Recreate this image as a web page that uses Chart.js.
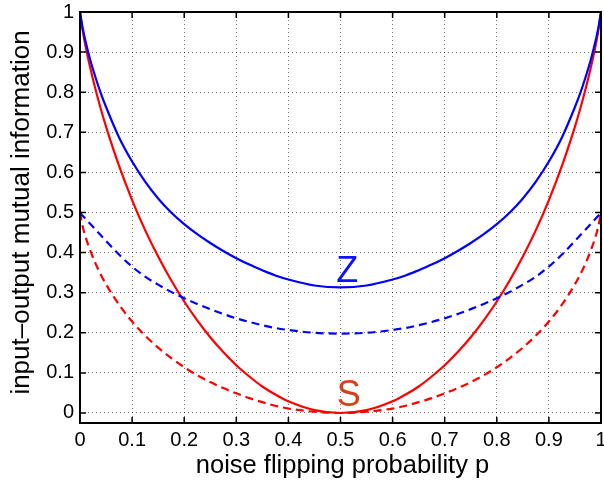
<!DOCTYPE html>
<html>
<head>
<meta charset="utf-8">
<script src="https://cdn.jsdelivr.net/npm/chart.js@4.4.1/dist/chart.umd.min.js"></script>
<style>
  html, body { margin: 0; padding: 0; background: #fff; }
  #wrap { width: 604px; height: 486px; }
</style>
</head>
<body>
<div id="wrap"><canvas id="chart" width="604" height="486"></canvas></div>
<script>
/* Mutual information vs noise flipping probability. */

const pValues = [0, 0.005, 0.01, 0.02, 0.03, 0.04, 0.05, 0.075, 0.1, 0.125, 0.15, 0.175, 0.2, 0.225, 0.25, 0.275,
  0.3, 0.325, 0.35, 0.375, 0.4, 0.45, 0.5, 0.55, 0.6, 0.625, 0.65, 0.675, 0.7, 0.725, 0.75, 0.775, 0.8, 0.825,
  0.85, 0.875, 0.9, 0.925, 0.95, 0.96, 0.97, 0.98, 0.99, 0.995, 1];

// Z, solid
const zSolid = [1, 0.961, 0.930, 0.879, 0.836, 0.797, 0.763, 0.687, 0.627, 0.577, 0.535, 0.500, 0.471, 0.446, 0.424, 0.404,
  0.386, 0.370, 0.356, 0.343, 0.333, 0.318, 0.313, 0.318, 0.333, 0.343, 0.356, 0.370, 0.386, 0.404, 0.424, 0.446, 0.471, 0.500,
  0.535, 0.577, 0.627, 0.687, 0.763, 0.797, 0.836, 0.879, 0.930, 0.961, 1];
// Z, dashed
const zDashed = [0.5, 0.492, 0.485, 0.471, 0.457, 0.443, 0.429, 0.395, 0.365, 0.340, 0.320, 0.302, 0.286, 0.272, 0.259, 0.247,
  0.236, 0.227, 0.219, 0.212, 0.207, 0.200, 0.198, 0.200, 0.207, 0.212, 0.219, 0.227, 0.236, 0.247, 0.259, 0.272, 0.286, 0.302,
  0.320, 0.340, 0.365, 0.395, 0.429, 0.443, 0.457, 0.471, 0.485, 0.492, 0.5];
// S, solid
const sSolid = [1, 0.955, 0.919, 0.859, 0.806, 0.758, 0.714, 0.616, 0.531, 0.456, 0.390, 0.331, 0.278, 0.231, 0.189, 0.152,
  0.119, 0.091, 0.066, 0.046, 0.029, 0.007, 0, 0.007, 0.029, 0.046, 0.066, 0.091, 0.119, 0.152, 0.189, 0.231, 0.278, 0.331,
  0.390, 0.456, 0.531, 0.616, 0.714, 0.758, 0.806, 0.859, 0.919, 0.955, 1];
// S, dashed
const sDashed = [0.5, 0.466, 0.442, 0.404, 0.372, 0.345, 0.321, 0.270, 0.228, 0.193, 0.163, 0.137, 0.114, 0.094, 0.077, 0.062,
  0.049, 0.037, 0.027, 0.018, 0.011, 0.003, 0, 0.003, 0.011, 0.018, 0.027, 0.037, 0.049, 0.062, 0.077, 0.094, 0.114, 0.137,
  0.163, 0.193, 0.228, 0.270, 0.321, 0.345, 0.372, 0.404, 0.442, 0.466, 0.5];

const xTickValues = [0, 0.1, 0.2, 0.3, 0.4, 0.5, 0.6, 0.7, 0.8, 0.9, 1];
const xTickLabels = ["0", "0.1", "0.2", "0.3", "0.4", "0.5", "0.6", "0.7", "0.8", "0.9", "1"];
const yTickValues = [0, 0.1, 0.2, 0.3, 0.4, 0.5, 0.6, 0.7, 0.8, 0.9, 1];
const yTickLabels = ["0", "0.1", "0.2", "0.3", "0.4", "0.5", "0.6", "0.7", "0.8", "0.9", "1"];

const xTitle = "noise flipping probability p";
const yTitle = "input\u2013output mutual information";

const FONT = '"Liberation Sans", Arial, Helvetica, sans-serif';
const BLUE = "#0000ff";
const RED = "#ff0000";

function points(ys) {
  return pValues.map((p, i) => ({ x: p, y: ys[i] }));
}

function curve(label, ys, color, dashed) {
  return {
    label,
    data: points(ys),
    borderColor: color,
    borderWidth: 2.2,
    borderDash: dashed ? [8, 5] : [],
    pointRadius: 0,
    showLine: true,
    fill: false,
    cubicInterpolationMode: "monotone",
  };
}

// black box + inward tick marks on all four sides, axis titles, curve labels
const decorPlugin = {
  id: "decor",
  afterDatasetsDraw(chart) {
    const { ctx, chartArea: a, scales } = chart;
    const x = scales.x;
    const y = scales.y;
    ctx.save();
    ctx.strokeStyle = "#000";
    ctx.lineWidth = 2;
    ctx.strokeRect(a.left, a.top, a.right - a.left, a.bottom - a.top);

    ctx.lineWidth = 1.5;
    ctx.beginPath();
    xTickValues.forEach((v) => {
      const px = x.getPixelForValue(v);
      ctx.moveTo(px, a.bottom);
      ctx.lineTo(px, a.bottom - 6);
      ctx.moveTo(px, a.top);
      ctx.lineTo(px, a.top + 6);
    });
    yTickValues.forEach((v) => {
      const py = y.getPixelForValue(v);
      ctx.moveTo(a.left, py);
      ctx.lineTo(a.left + 6, py);
      ctx.moveTo(a.right, py);
      ctx.lineTo(a.right - 6, py);
    });
    ctx.stroke();

    ctx.fillStyle = "#000";
    ctx.textAlign = "center";
    ctx.textBaseline = "alphabetic";
    ctx.font = "25.5px " + FONT;
    ctx.fillText(xTitle, (a.left + a.right) / 2 + 2, 473);

    ctx.save();
    ctx.translate(29, (a.top + a.bottom) / 2 - 5);
    ctx.rotate(-Math.PI / 2);
    ctx.font = "26px " + FONT;
    ctx.fillText(yTitle, 0, 0);
    ctx.restore();

    ctx.font = "36px " + FONT;
    ctx.fillStyle = "#1010ff";
    ctx.fillText("Z", x.getPixelForValue(0.513), y.getPixelForValue(0.327));
    ctx.fillStyle = "#d8401c";
    ctx.fillText("S", x.getPixelForValue(0.516), y.getPixelForValue(0.017));
    ctx.restore();
  },
};

function initChart() {
  const canvas = document.getElementById("chart");
  new Chart(canvas.getContext("2d"), {
    type: "scatter",
    data: {
      datasets: [
        curve("Z solid", zSolid, BLUE, false),
        curve("Z dashed", zDashed, BLUE, true),
        curve("S solid", sSolid, RED, false),
        curve("S dashed", sDashed, RED, true),
      ],
    },
    options: {
      responsive: false,
      animation: false,
      devicePixelRatio: 1,
      layout: { padding: { top: 12, right: 3, left: 0, bottom: 0 } },
      plugins: { legend: { display: false }, tooltip: { enabled: false } },
      scales: {
        x: {
          type: "linear",
          min: 0,
          max: 1,
          afterBuildTicks: (s) => { s.ticks = xTickValues.map((v) => ({ value: v })); },
          afterFit: (s) => { s.height = 63; s.paddingLeft = 0; s.paddingRight = 0; },
          grid: { color: "rgba(0,0,0,0.55)", lineWidth: 1, drawTicks: false },
          border: { display: false, dash: [1, 3] },
          ticks: {
            padding: 5,
            maxRotation: 0,
            autoSkip: false,
            color: "#000",
            font: { family: FONT, size: 20 },
            callback: (v, i) => xTickLabels[i],
          },
        },
        y: {
          type: "linear",
          min: -0.025,
          max: 1,
          afterBuildTicks: (s) => { s.ticks = yTickValues.map((v) => ({ value: v })); },
          afterFit: (s) => { s.width = 80; s.paddingTop = 0; s.paddingBottom = 0; },
          grid: { color: "rgba(0,0,0,0.55)", lineWidth: 1, drawTicks: false },
          border: { display: false, dash: [1, 3] },
          ticks: {
            padding: 6,
            autoSkip: false,
            color: "#000",
            font: { family: FONT, size: 20 },
            callback: (v, i) => yTickLabels[i],
          },
        },
      },
    },
    plugins: [decorPlugin],
  });
}

document.addEventListener("DOMContentLoaded", initChart);
</script>
</body>
</html>
